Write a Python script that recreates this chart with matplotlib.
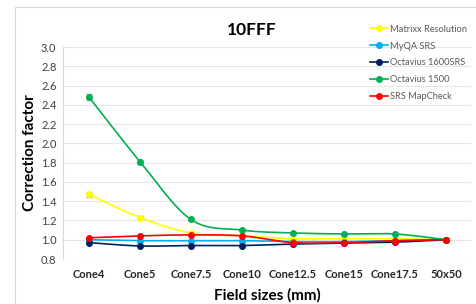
import numpy as np
import matplotlib
matplotlib.use("Agg")
import matplotlib.pyplot as plt
from matplotlib.patches import Rectangle

plt.rcParams['font.family'] = ['Lato', 'DejaVu Sans']

# 数据
fields = ["Cone4", "Cone5", "Cone7.5", "Cone10", "Cone12.5", "Cone15", "Cone17.5", "50x50"]
matrixx = [1.47, 1.23, 1.07, 1.04, 1.01, 1.01, 1.01, 1.00]
myqa = [1.00, 0.99, 0.99, 0.99, 0.98, 0.98, 0.99, 1.00]
octavius1600 = [0.97, 0.935, 0.94, 0.94, 0.955, 0.965, 0.975, 1.00]
octavius1500 = [2.48, 1.81, 1.21, 1.10, 1.07, 1.06, 1.06, 1.00]
mapcheck = [1.02, 1.04, 1.05, 1.04, 0.97, 0.97, 0.99, 1.00]
err_matrixx = [0.03, 0.02, 0.01, 0.01, 0.005, 0.005, 0.005, 0.0]
err_1500 = [0.03, 0.02, 0.01, 0.01, 0.01, 0.01, 0.01, 0.0]

series = [
    ("Matrixx Resolution", matrixx, err_matrixx, "#FFFF00"),
    ("MyQA SRS", myqa, None, "#00B0F0"),
    ("Octavius 1600SRS", octavius1600, None, "#002060"),
    ("Octavius 1500", octavius1500, err_1500, "#00B050"),
    ("SRS MapCheck", mapcheck, None, "#FF0000"),
]


def smooth(x, y, n=20):
    # 类似 Excel 的平滑线 (Catmull-Rom -> Bezier)
    x = np.asarray(x, float)
    y = np.asarray(y, float)
    P = np.column_stack([x, y])
    out = [P[0]]
    for i in range(len(P) - 1):
        p0 = P[i - 1] if i > 0 else P[i]
        p1 = P[i]
        p2 = P[i + 1]
        p3 = P[i + 2] if i + 2 < len(P) else P[i + 1]
        c1 = p1 + (p2 - p0) / 6
        c2 = p2 - (p3 - p1) / 6
        t = np.linspace(0, 1, n)[1:, None]
        seg = ((1 - t) ** 3) * p1 + 3 * ((1 - t) ** 2) * t * c1 + 3 * (1 - t) * t ** 2 * c2 + t ** 3 * p2
        out.extend(seg)
    out = np.array(out)
    return out[:, 0], out[:, 1]


fig = plt.figure(figsize=(4.77, 3.04), dpi=100)
fig.patches.append(Rectangle((15 / 477, -0.1), 1.0, 1 - 7 / 304 + 0.1, transform=fig.transFigure,
                             fill=False, edgecolor="#D9D9D9", linewidth=0.8))
ax = fig.add_axes([63.5 / 477, 1 - 259 / 304, 408 / 477, 212 / 304])

x = np.arange(len(fields))
for name, vals, err, col in series:
    xs, ys = smooth(x, vals)
    ax.plot(xs, ys, color=col, lw=1.2, zorder=3)
    ax.plot(x, vals, 'o', color=col, ms=4, zorder=4)
    if err is not None:
        ax.errorbar(x, vals, yerr=err, fmt='none', ecolor="#A6A6A6", elinewidth=0.8, capsize=2, zorder=2)
    ax.plot([], [], '-o', color=col, lw=1.2, ms=4, label=name)

ax.set_xlim(-0.5, len(fields) - 0.5)
ax.set_ylim(0.8, 3.0)
ax.set_yticks(np.arange(0.8, 3.01, 0.2))
ax.set_yticklabels([f"{v:.1f}" for v in np.arange(0.8, 3.01, 0.2)], fontsize=8, color="#404040")
ax.set_xticks(x)
ax.set_xticklabels(fields, fontsize=8, fontweight="bold", color="#262626")
ax.tick_params(length=0, pad=5)
ax.tick_params(axis='x', pad=7)
ax.grid(axis='y', color="#E6E6E6", lw=0.8)
ax.set_axisbelow(True)
for s in ["top", "right", "bottom"]:
    ax.spines[s].set_visible(False)
ax.spines["left"].set_color("#D9D9D9")

ax.set_ylabel("Correction factor", fontsize=11, fontweight="bold", labelpad=3)
ax.set_xlabel("Field sizes (mm)", fontsize=11, fontweight="bold", labelpad=6)
fig.text(252 / 477, 1 - 30 / 304, "10FFF", fontsize=12.5, fontweight="bold", ha="center", va="center")

leg = ax.legend(loc="upper left", bbox_to_anchor=(365 / 477, 1 - 20 / 304), bbox_transform=fig.transFigure,
                frameon=False, fontsize=6.7, labelcolor="#595959", handlelength=2.0, handletextpad=0.2,
                labelspacing=0.85, borderpad=0)

fig.savefig("out.png", dpi=100)
